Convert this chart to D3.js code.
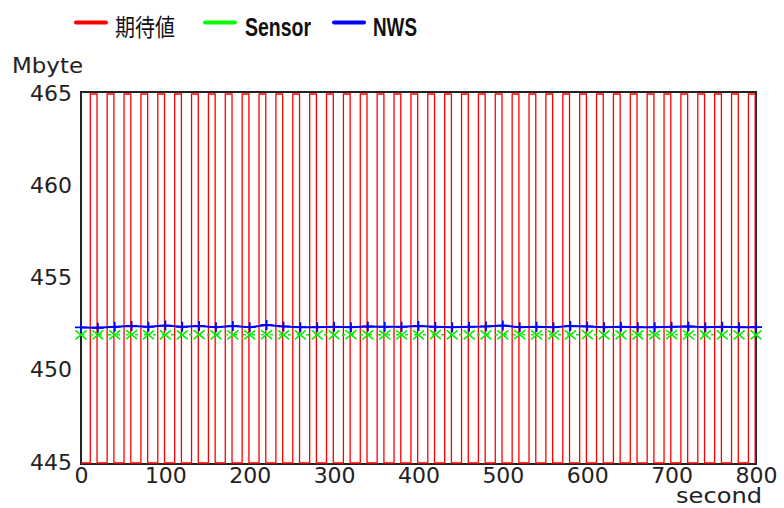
<!DOCTYPE html>
<html>
<head>
<meta charset="utf-8">
<script src="https://cdn.jsdelivr.net/npm/d3@7"></script>
<style>
  body { margin: 0; background: #fff; }
  svg { display: block; }
</style>
</head>
<body>
<div id="chart"></div>
<script>
// sample times of the two measured series (seconds)
const sampleTimes = [0, 20, 40, 60, 80, 100, 120, 140, 160, 180, 200, 220, 240, 260, 280, 300,
    320, 340, 360, 380, 400, 420, 440, 460, 480, 500, 520, 540, 560, 580, 600, 620, 640, 660,
    680, 700, 720, 740, 760, 780, 800]

const sensorValues = [451.95, 451.95, 451.95, 451.96, 451.95, 451.95, 451.95, 451.96, 451.95, 451.95,
    451.95, 451.96, 451.95, 451.95, 451.95, 451.95, 451.96, 451.95, 451.95, 451.95,
    451.95, 451.96, 451.95, 451.95, 451.95, 451.95, 451.96, 451.95, 451.95, 451.95,
    451.96, 451.95, 451.95, 451.95, 451.95, 451.96, 451.95, 451.95, 451.95, 451.95, 451.95]

const nwsValues = [452.35, 452.33, 452.38, 452.43, 452.38, 452.45, 452.38, 452.42, 452.36, 452.42,
    452.36, 452.48, 452.40, 452.36, 452.36, 452.38, 452.36, 452.40, 452.38, 452.38,
    452.42, 452.38, 452.36, 452.38, 452.40, 452.45, 452.36, 452.38, 452.36, 452.42,
    452.40, 452.36, 452.38, 452.36, 452.36, 452.38, 452.40, 452.36, 452.38, 452.36, 452.36]

// expected value: step changes (time, value after the step)
const expectedTimes = [0, 11, 19, 31, 39, 51, 59, 71, 79, 91, 99, 111, 119, 131, 139, 151, 159,
    171, 179, 191, 199, 211, 219, 231, 239, 251, 259, 271, 279, 291, 299, 311, 319, 331, 339,
    351, 359, 371, 379, 391, 399, 411, 419, 431, 439, 451, 459, 471, 479, 491, 499, 511, 519,
    531, 539, 551, 559, 571, 579, 591, 599, 611, 619, 631, 639, 651, 659, 671, 679, 691, 699,
    711, 719, 731, 739, 751, 759, 771, 779, 791, 799, 800]
const expectedValues = [445, 465, 445, 465, 445, 465, 445, 465, 445, 465, 445, 465, 445, 465, 445,
    465, 445, 465, 445, 465, 445, 465, 445, 465, 445, 465, 445, 465, 445, 465, 445, 465, 445,
    465, 445, 465, 445, 465, 445, 465, 445, 465, 445, 465, 445, 465, 445, 465, 445, 465, 445,
    465, 445, 465, 445, 465, 445, 465, 445, 465, 445, 465, 445, 465, 445, 465, 445, 465, 445,
    465, 445, 465, 445, 465, 445, 465, 445, 465, 445, 465, 445, 445]

const xTicks = [0, 100, 200, 300, 400, 500, 600, 700, 800]
const yTicks = [445, 450, 455, 460, 465]

const legendNames = ["期待値", "Sensor", "NWS"]
const legendColors = ["#ff0000", "#00ff00", "#0000ff"]

const width = 784, height = 508
const plot = {left: 81, right: 756, top: 92, bottom: 464}

const svg = d3.select("#chart").append("svg")
    .attr("width", width).attr("height", height)

const x = d3.scaleLinear().domain([0, 800]).range([plot.left, plot.right])
const y = d3.scaleLinear().domain([445, 465]).range([plot.bottom - 1, plot.top + 2])

// frame
svg.append("rect")
    .attr("x", plot.left).attr("y", plot.top)
    .attr("width", plot.right - plot.left).attr("height", plot.bottom - plot.top)
    .attr("fill", "none").attr("stroke", "#222").attr("stroke-width", 2)

// expected (red square wave)
const expData = expectedTimes.map((t, i) => [t, expectedValues[i]])
svg.append("path")
    .datum(expData)
    .attr("d", d3.line().x(d => x(d[0])).y(d => y(d[1])).curve(d3.curveStepAfter))
    .attr("fill", "none").attr("stroke", "#ff0000").attr("stroke-width", 1.3)

// sensor (green, dashed + X)
const sensorData = sampleTimes.map((t, i) => [t, sensorValues[i]])
svg.append("path")
    .datum(sensorData)
    .attr("d", d3.line().x(d => x(d[0])).y(d => y(d[1])))
    .attr("fill", "none").attr("stroke", "#00ee00").attr("stroke-width", 1.5)
    .attr("stroke-dasharray", "3,6")
svg.append("g").selectAll("path").data(sensorData).join("path")
    .attr("transform", d => `translate(${x(d[0])},${y(d[1])})`)
    .attr("d", "M-5.5,-4.5L5.5,4.5M-5.5,4.5L5.5,-4.5")
    .attr("stroke", "#00ee00").attr("stroke-width", 1.6).attr("fill", "none")

// NWS (blue, solid + plus)
const nwsData = sampleTimes.map((t, i) => [t, nwsValues[i]])
svg.append("path")
    .datum(nwsData)
    .attr("d", d3.line().x(d => x(d[0])).y(d => y(d[1])))
    .attr("fill", "none").attr("stroke", "#0000ff").attr("stroke-width", 2)
svg.append("g").selectAll("path").data(nwsData).join("path")
    .attr("transform", d => `translate(${x(d[0])},${y(d[1])})`)
    .attr("d", "M-6,0H6M0,-5V5")
    .attr("stroke", "#0000ff").attr("stroke-width", 1.8).attr("fill", "none")

// axes (labels only, no tick lines)
const xAxis = svg.append("g")
    .attr("transform", `translate(0,${plot.bottom})`)
    .call(d3.axisBottom(x).tickValues(xTicks).tickSize(0).tickPadding(19))
xAxis.select(".domain").remove()
xAxis.selectAll("text")
    .attr("font-family", "DejaVu Sans, sans-serif").attr("font-size", 22)
    .attr("fill", "#222").attr("dy", 0)

const yAxis = svg.append("g")
    .attr("transform", `translate(${plot.left},0)`)
    .call(d3.axisLeft(y).tickValues(yTicks).tickSize(0).tickPadding(9))
yAxis.select(".domain").remove()
yAxis.selectAll("text")
    .attr("font-family", "DejaVu Sans, sans-serif").attr("font-size", 22)
    .attr("fill", "#222").attr("dy", 6)

svg.append("text").text("Mbyte")
    .attr("x", 12).attr("y", 73)
    .attr("font-family", "DejaVu Sans, sans-serif").attr("font-size", 22).attr("fill", "#222")
    .attr("textLength", 71).attr("lengthAdjust", "spacingAndGlyphs")
svg.append("text").text("second")
    .attr("x", 762).attr("y", 503).attr("text-anchor", "end")
    .attr("font-family", "DejaVu Sans, sans-serif").attr("font-size", 21).attr("fill", "#222")
    .attr("textLength", 86).attr("lengthAdjust", "spacingAndGlyphs")

// legend
const legendLineX = [76, 205, 334]
const legendTextX = [115, 245, 373]
const legendTextW = [60, 66, 44]
const legend = svg.append("g")
legend.selectAll("line").data(legendNames).join("line")
    .attr("x1", (d, i) => legendLineX[i]).attr("x2", (d, i) => legendLineX[i] + 30)
    .attr("y1", 22.5).attr("y2", 22.5)
    .attr("stroke", (d, i) => legendColors[i]).attr("stroke-width", 4)
    .attr("stroke-linecap", "round")
legend.selectAll("text").data(legendNames).join("text")
    .text(d => d)
    .attr("x", (d, i) => legendTextX[i]).attr("y", 36)
    .attr("font-family", (d, i) => i == 0 ? "Noto Sans CJK JP, sans-serif" : "Liberation Sans, Arial, sans-serif")
    .attr("font-weight", (d, i) => i == 0 ? "normal" : "bold")
    .attr("font-size", (d, i) => i == 0 ? 24 : 25)
    .attr("textLength", (d, i) => legendTextW[i]).attr("lengthAdjust", "spacingAndGlyphs")
    .attr("fill", "#111")
</script>
</body>
</html>
